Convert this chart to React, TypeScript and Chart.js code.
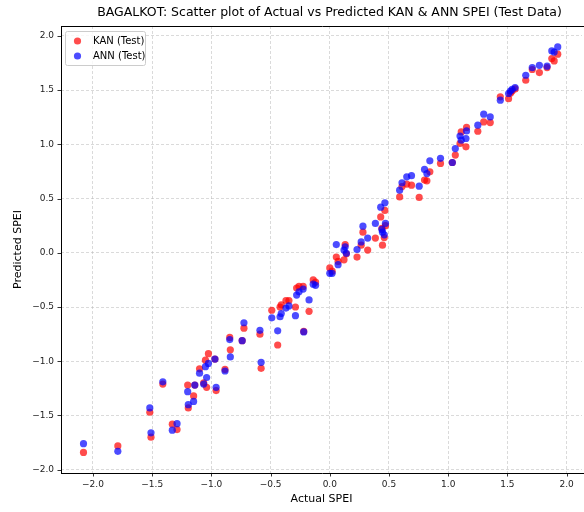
import React, { useEffect, useRef } from "react";
import { Chart, registerables } from "chart.js";

Chart.register(...registerables);

const titleText = "BAGALKOT: Scatter plot of Actual vs Predicted KAN & ANN SPEI (Test Data)";
const xAxisTitle = "Actual SPEI";
const yAxisTitle = "Predicted SPEI";
const seriesNames = ["KAN (Test)", "ANN (Test)"];

const actualSpei = [
  -2.08, -1.79, -1.52, -1.51, -1.41, -1.33, -1.29, -1.2, -1.195, -1.15, -1.14, -1.1, -1.065, -1.05, -1.04,
  -1.025, -0.97, -0.96, -0.885, -0.845, -0.84, -0.74, -0.725, -0.59, -0.58, -0.49, -0.44, -0.42, -0.41,
  -0.37, -0.345, -0.29, -0.28, -0.26, -0.225, -0.22, -0.175, -0.14, -0.12, 0.0, 0.02, 0.055, 0.07, 0.12,
  0.13, 0.14, 0.23, 0.265, 0.28, 0.32, 0.385, 0.43, 0.44, 0.445, 0.46, 0.465, 0.47, 0.59, 0.61, 0.65, 0.69,
  0.755, 0.8, 0.82, 0.845, 0.935, 1.035, 1.06, 1.1, 1.11, 1.15, 1.155, 1.25, 1.3, 1.355, 1.44, 1.51, 1.525,
  1.54, 1.565, 1.655, 1.71, 1.77, 1.835, 1.875, 1.895, 1.925,
];

const kanPredicted = [
  -1.84, -1.78, -1.47, -1.7, -1.21, -1.58, -1.63, -1.22, -1.43, -1.32, -1.22, -1.07, -1.2, -0.99, -1.24,
  -0.93, -0.98, -1.27, -1.075, -0.78, -0.895, -0.81, -0.695, -0.75, -1.065, -0.53, -0.85, -0.5, -0.48,
  -0.44, -0.44, -0.5, -0.325, -0.31, -0.31, -0.725, -0.54, -0.25, -0.27, -0.14, -0.17, -0.04, -0.08, -0.065,
  0.075, -0.01, -0.04, 0.07, 0.19, 0.025, 0.135, 0.33, 0.225, 0.07, 0.14, 0.39, 0.25, 0.515, 0.61, 0.633, 0.623,
  0.51, 0.67, 0.663, 0.746, 0.823, 0.832, 0.9, 1.007, 1.114, 0.976, 1.155, 1.12, 1.206, 1.2, 1.437, 1.42, 1.47,
  1.49, 1.51, 1.59, 1.689, 1.661, 1.707, 1.79, 1.768, 1.83,
];

const annPredicted = [
  -1.76, -1.83, -1.43, -1.66, -1.19, -1.635, -1.575, -1.28, -1.4, -1.37, -1.22, -1.11, -1.21, -1.05, -1.15,
  -1.02, -0.98, -1.24, -1.09, -0.8, -0.96, -0.81, -0.645, -0.715, -1.01, -0.6, -0.72, -0.59, -0.56,
  -0.51, -0.49, -0.58, -0.39, -0.36, -0.335, -0.73, -0.435, -0.29, -0.3, -0.19, -0.19, 0.075, -0.11, 0.025,
  0.055, -0.005, 0.03, 0.1, 0.245, 0.135, 0.27, 0.42, 0.215, 0.19, 0.165, 0.46, 0.27, 0.577, 0.645, 0.7, 0.71,
  0.614, 0.768, 0.73, 0.847, 0.87, 0.832, 0.96, 1.075, 1.038, 1.053, 1.123, 1.176, 1.277, 1.252, 1.406, 1.468, 1.49,
  1.505, 1.523, 1.636, 1.707, 1.728, 1.72, 1.86, 1.85, 1.897,
];

const xTickValues = [-2.0, -1.5, -1.0, -0.5, 0.0, 0.5, 1.0, 1.5, 2.0];
const yTickValues = [-2.0, -1.5, -1.0, -0.5, 0.0, 0.5, 1.0, 1.5, 2.0];

const FONT = "'DejaVu Sans', sans-serif";
const KAN_COLOR = "rgba(255, 0, 0, 0.7)";
const ANN_COLOR = "rgba(0, 0, 255, 0.7)";

const fmt = (v: number) => (v < 0 ? "\u2212" : "") + Math.abs(v).toFixed(1);

const decorPlugin = {
  id: "mplDecor",
  afterDraw(chart: any) {
    const ctx = chart.ctx;
    const a = chart.chartArea;
    const xs = chart.scales.x;
    const ys = chart.scales.y;
    ctx.save();
    // spines (right spine falls outside the visible frame)
    ctx.strokeStyle = "#000";
    ctx.lineWidth = 1;
    ctx.beginPath();
    ctx.moveTo(a.left + 0.5, a.top);
    ctx.lineTo(a.left + 0.5, a.bottom);
    ctx.moveTo(a.left, a.bottom + 0.5);
    ctx.lineTo(a.right + 2, a.bottom + 0.5);
    ctx.moveTo(a.left, a.top + 0.5);
    ctx.lineTo(a.right + 2, a.top + 0.5);
    ctx.stroke();
    // tick marks
    ctx.lineWidth = 0.8;
    ctx.beginPath();
    xTickValues.forEach((v) => {
      const px = Math.round(xs.getPixelForValue(v)) + 0.5;
      ctx.moveTo(px, a.bottom);
      ctx.lineTo(px, a.bottom + 3.5);
    });
    yTickValues.forEach((v) => {
      const py = Math.round(ys.getPixelForValue(v)) + 0.5;
      ctx.moveTo(a.left, py);
      ctx.lineTo(a.left - 3.5, py);
    });
    ctx.stroke();
    // title
    ctx.fillStyle = "#000";
    ctx.font = `12.5px ${FONT}`;
    ctx.textAlign = "center";
    ctx.textBaseline = "middle";
    ctx.fillText(titleText, 329.5, 13);
    // axis titles
    ctx.font = `11px ${FONT}`;
    ctx.fillText(xAxisTitle, (a.left + a.right) / 2, 499);
    ctx.save();
    ctx.translate(18, (a.top + a.bottom) / 2);
    ctx.rotate(-Math.PI / 2);
    ctx.fillText(yAxisTitle, 0, 0);
    ctx.restore();
    // legend
    const lx = 65.5, ly = 31.5, lw = 80, lh = 34;
    ctx.fillStyle = "rgba(255,255,255,0.8)";
    ctx.strokeStyle = "rgba(204,204,204,1)";
    ctx.lineWidth = 1;
    ctx.beginPath();
    if (ctx.roundRect) ctx.roundRect(lx, ly, lw, lh, 2);
    else ctx.rect(lx, ly, lw, lh);
    ctx.fill();
    ctx.stroke();
    const colors = [KAN_COLOR, ANN_COLOR];
    const rows = [41, 56];
    ctx.font = `10px ${FONT}`;
    ctx.textAlign = "left";
    ctx.textBaseline = "middle";
    seriesNames.forEach((name, i) => {
      ctx.fillStyle = colors[i];
      ctx.beginPath();
      ctx.arc(77.5, rows[i], 3.6, 0, Math.PI * 2);
      ctx.fill();
      ctx.fillStyle = "#000";
      ctx.fillText(name, 93, rows[i]);
    });
    ctx.restore();
  },
};

export default function App() {
  const ref = useRef<HTMLCanvasElement | null>(null);
  useEffect(() => {
    document.body.style.margin = "0";
    const canvas = ref.current;
    if (!canvas) return;
    const kanPoints = actualSpei.map((x, i) => ({ x, y: kanPredicted[i] }));
    const annPoints = actualSpei.map((x, i) => ({ x, y: annPredicted[i] }));
    const gridCfg = {
      color: "rgba(176,176,176,0.6)",
      lineWidth: 0.8,
      drawTicks: false,
    };
    const chart = new Chart(canvas, {
      type: "scatter",
      data: {
        datasets: [
          {
            label: seriesNames[0],
            data: kanPoints,
            backgroundColor: KAN_COLOR,
            borderWidth: 0,
            pointRadius: 3.6,
            order: 1,
          },
          {
            label: seriesNames[1],
            data: annPoints,
            backgroundColor: ANN_COLOR,
            borderWidth: 0,
            pointRadius: 3.6,
            order: 0,
          },
        ],
      },
      options: {
        animation: false,
        responsive: false,
        devicePixelRatio: 1,
        layout: { padding: { top: 26, right: 1, left: 0, bottom: 0 } },
        plugins: {
          legend: { display: false },
          title: { display: false },
          tooltip: { enabled: false },
        },
        scales: {
          x: {
            type: "linear",
            min: -2.27,
            max: 2.13,
            afterFit: (s: any) => {
              s.height = 39;
            },
            afterBuildTicks: (s: any) => {
              s.ticks = xTickValues.map((value) => ({ value }));
            },
            border: { display: false, dash: [3, 2] },
            grid: { ...gridCfg },
            ticks: {
              font: { family: FONT, size: 9 },
              color: "#222",
              padding: 6,
              maxRotation: 0,
              autoSkip: false,
              callback: (v: any) => fmt(Number(v)),
            },
          },
          y: {
            type: "linear",
            min: -2.03,
            max: 2.09,
            afterFit: (s: any) => {
              s.width = 61;
            },
            afterBuildTicks: (s: any) => {
              s.ticks = yTickValues.map((value) => ({ value }));
            },
            border: { display: false, dash: [3, 2] },
            grid: { ...gridCfg },
            ticks: {
              font: { family: FONT, size: 9 },
              color: "#222",
              padding: 7,
              autoSkip: false,
              callback: (v: any) => fmt(Number(v)),
            },
          },
        },
      },
      plugins: [decorPlugin],
    } as any);
    return () => chart.destroy();
  }, []);

  return (
    <div
      style={{
        position: "fixed",
        left: 0,
        top: 0,
        width: 584,
        height: 512,
        overflow: "hidden",
        background: "#fff",
      }}
    >
      <canvas ref={ref} width={586} height={512} style={{ display: "block" }} />
    </div>
  );
}
